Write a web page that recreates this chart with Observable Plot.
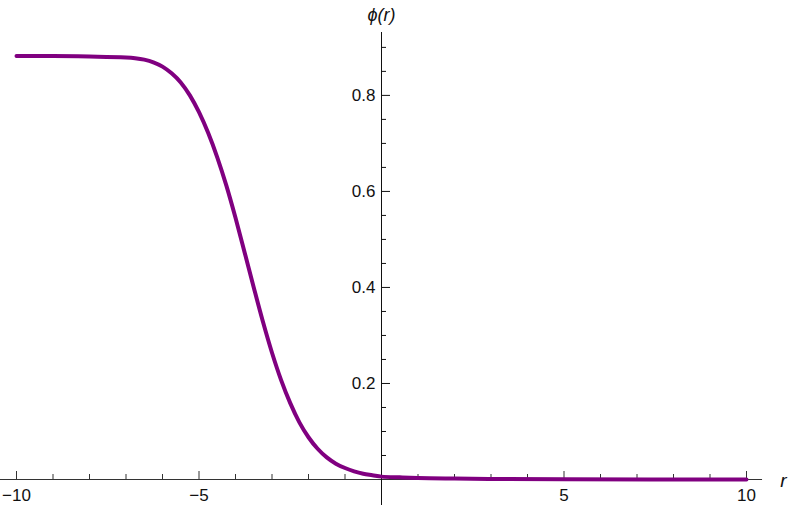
<!DOCTYPE html>
<html>
<head>
<meta charset="utf-8">
<script src="https://cdn.jsdelivr.net/npm/d3@7"></script>
<script src="https://cdn.jsdelivr.net/npm/@observablehq/plot@0.6"></script>
<style>
  html, body { margin: 0; padding: 0; background: #fff; }
  #chart svg { overflow: visible; display: block; }
</style>
</head>
<body>
<div id="chart"></div>
<script>
// Curve samples
const rValues = [-10, -9, -8, -7, -6.75, -6.5, -6.25, -6, -5.75, -5.5, -5.25, -5, -4.75, -4.5, -4.25, -4, -3.75, -3.5, -3.25, -3, -2.75, -2.5, -2.25, -2, -1.75, -1.5, -1.25, -1, -0.75, -0.5, -0.25, 0, 0.5, 1, 2, 3, 5, 10];
const phiValues = [0.882, 0.882, 0.881, 0.879, 0.8775, 0.8745, 0.869, 0.860, 0.846, 0.827, 0.800, 0.765, 0.722, 0.671, 0.612, 0.545, 0.473, 0.400, 0.329, 0.264, 0.207, 0.159, 0.119, 0.088, 0.064, 0.046, 0.033, 0.024, 0.017, 0.012, 0.009, 0.006, 0.0045, 0.0033, 0.002, 0.001, 0.0004, 0];

// Axis ticks
const xMajorTicks = [-10, -5, 5, 10];
const xMajorLabels = ["−10", "−5", "5", "10"];
const xMinorTicks = [-9, -8, -7, -6, -4, -3, -2, -1, 1, 2, 3, 4, 6, 7, 8, 9];
const yMajorTicks = [0.2, 0.4, 0.6, 0.8];
const yMajorLabels = ["0.2", "0.4", "0.6", "0.8"];
const yMinorTicks = [0.05, 0.1, 0.15, 0.25, 0.3, 0.35, 0.45, 0.5, 0.55, 0.65, 0.7, 0.75, 0.85, 0.9];
const xAxisTitle = "r";
const yAxisTitle = "ϕ(r)";

const curve = rValues.map((r, i) => ({r, phi: phiValues[i]}));

const font = "'Liberation Sans', Arial, sans-serif";
const axisColor = "#333";

const chart = Plot.plot({
  width: 790,
  height: 505,
  marginLeft: 16,
  marginRight: 44,
  marginTop: 32,
  marginBottom: 26,
  style: {fontFamily: font, background: "#fff"},
  x: {domain: [-10, 10], axis: null},
  y: {domain: [0, 0.931], axis: null},
  marks: [
    // axis lines
    Plot.ruleY([0], {x1: -10.44, x2: 10.44, stroke: axisColor, strokeWidth: 1}),
    Plot.ruleX([0], {y1: -0.055, y2: 0.931, stroke: "#111", strokeWidth: 1}),
    // x ticks
    Plot.ruleX(xMajorTicks, {x: d => d, y1: 0, y2: 0, insetBottom: 8, stroke: axisColor}),
    Plot.ruleX(xMinorTicks, {x: d => d, y1: 0, y2: 0, insetBottom: 5, stroke: axisColor}),
    // y ticks
    Plot.ruleY(yMajorTicks, {y: d => d, x1: 0, x2: 0, insetRight: -9, stroke: "#111"}),
    Plot.ruleY(yMinorTicks, {y: d => d, x1: 0, x2: 0, insetRight: -5, stroke: "#111"}),
    // tick labels
    Plot.text(xMajorTicks, {x: d => d, y: 0, text: (d, i) => xMajorLabels[i], dy: 16, fontSize: 17, fill: "#111"}),
    Plot.text(yMajorTicks, {x: 0, y: d => d, text: (d, i) => yMajorLabels[i], dx: -6, textAnchor: "end", fontSize: 17, fill: "#111"}),
    // axis titles
    Plot.text([xAxisTitle], {x: 10, y: 0, text: d => d, dx: 37, dy: 1, fontSize: 19, fontStyle: "italic", fill: "#111"}),
    Plot.text([yAxisTitle], {x: 0, y: 0.931, text: d => d, dy: -17, fontSize: 18, fontStyle: "italic", fill: "#111"}),
    // curve
    Plot.line(curve, {x: "r", y: "phi", stroke: "#800080", strokeWidth: 4, curve: "monotone-x"})
  ]
});

document.getElementById("chart").append(chart);
</script>
</body>
</html>
